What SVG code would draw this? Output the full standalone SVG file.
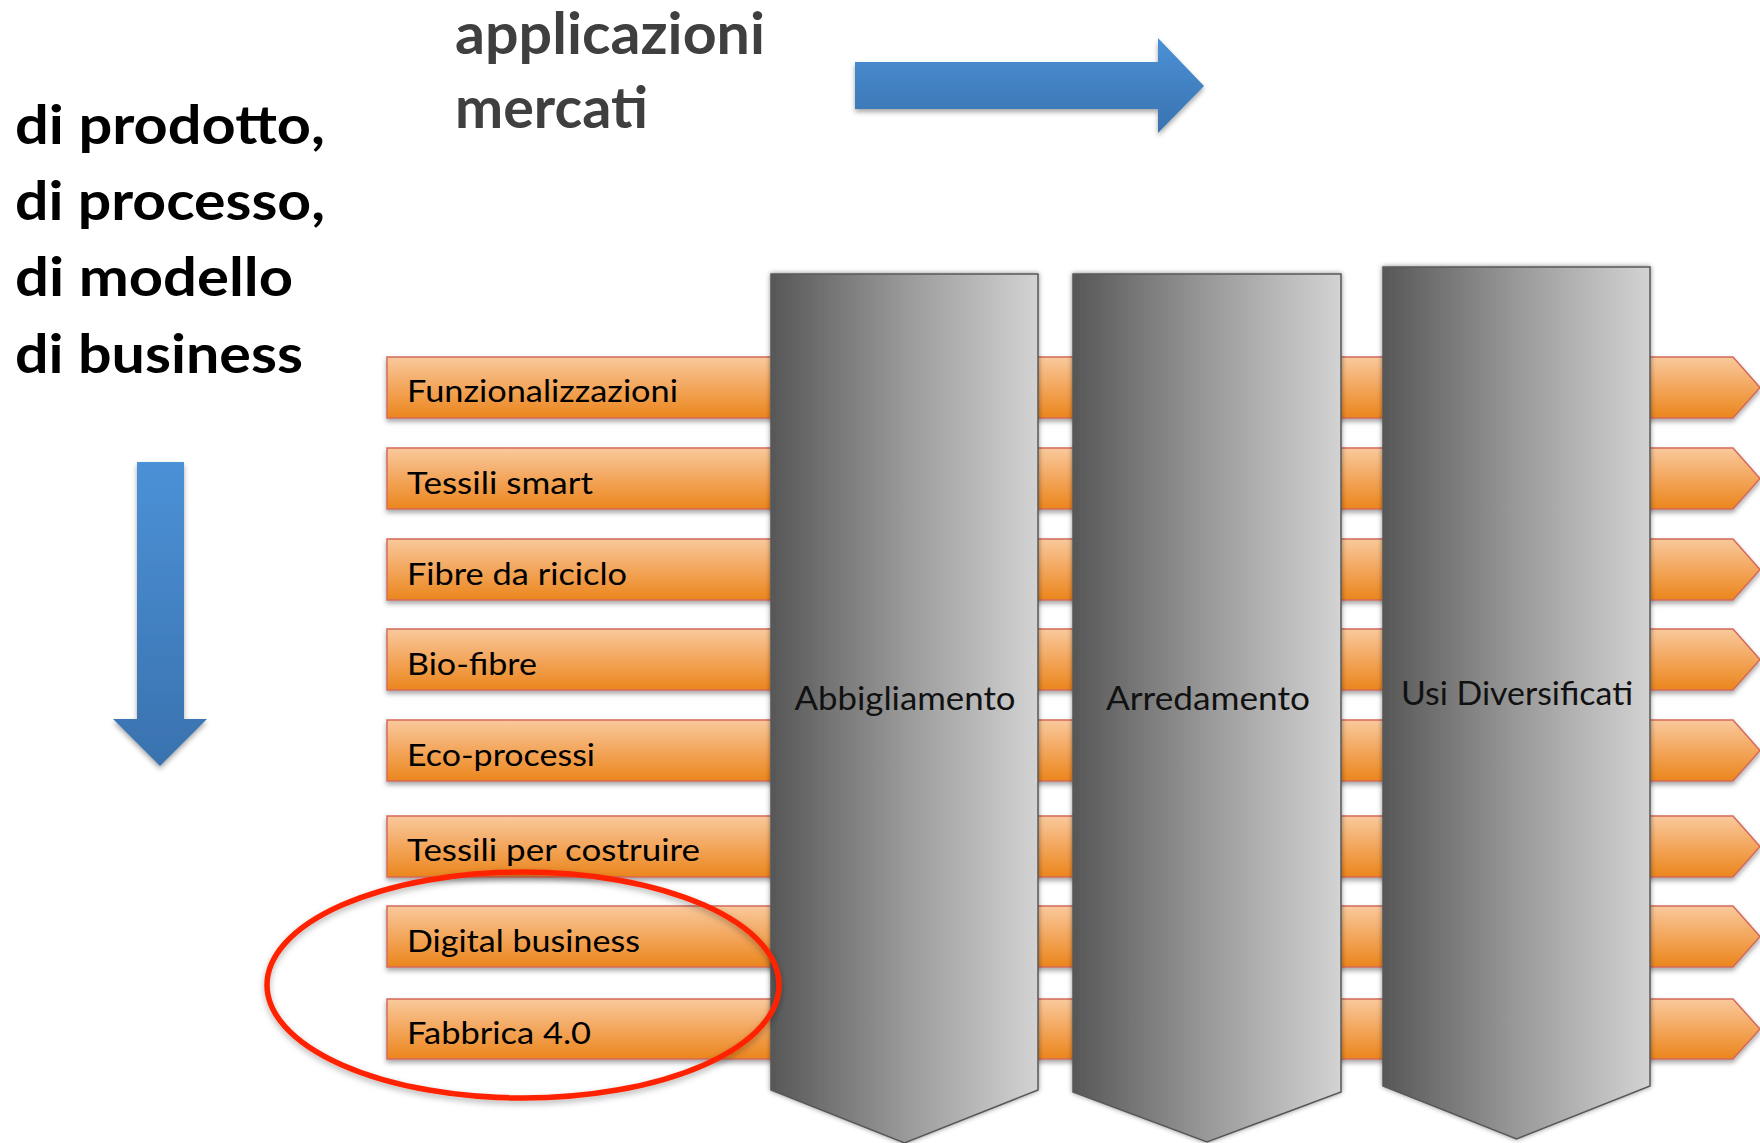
<svg xmlns="http://www.w3.org/2000/svg" width="1760" height="1143" viewBox="0 0 1760 1143">
<style>
  .head { font-family: Lato, "Open Sans", "Liberation Sans", sans-serif; font-weight: bold; }
  .left { font-size: 54px; fill: #000000; }
  .top { font-size: 58px; fill: #3f3f3f; }
  .bar { fill: url(#gOrange); stroke: #d3695c; stroke-width: 1.5; filter: url(#shadow); }
  .barText { font-family: Lato, "Open Sans", "Liberation Sans", sans-serif; font-size: 31px; fill: #000000; }
  .pillar { fill: url(#gGray); stroke: #585858; stroke-width: 1.5; filter: url(#shadow2); }
  .pillarText { font-family: Lato, "Open Sans", "Liberation Sans", sans-serif; font-size: 32px; fill: #111111; text-anchor: middle; }
  .blue { fill: url(#gBlue); filter: url(#shadow); }
</style>
<defs>
  <linearGradient id="gOrange" x1="0" y1="0" x2="0" y2="1">
    <stop offset="0" stop-color="#f9c99c"/>
    <stop offset="0.5" stop-color="#f3a65c"/>
    <stop offset="1" stop-color="#eb861c"/>
  </linearGradient>
  <linearGradient id="gGray" x1="0" y1="0" x2="1" y2="0">
    <stop offset="0" stop-color="#575757"/>
    <stop offset="0.5" stop-color="#999999"/>
    <stop offset="1" stop-color="#d3d3d3"/>
  </linearGradient>
  <linearGradient id="gBlue" x1="0" y1="0" x2="0" y2="1">
    <stop offset="0" stop-color="#4b91d7"/>
    <stop offset="1" stop-color="#3a72ae"/>
  </linearGradient>
  <filter id="shadow" x="-5%" y="-20%" width="110%" height="150%">
    <feDropShadow dx="0" dy="3" stdDeviation="2.5" flood-color="#000000" flood-opacity="0.35"/>
  </filter>
  <filter id="shadow2" x="-10%" y="-5%" width="120%" height="110%">
    <feDropShadow dx="0" dy="0" stdDeviation="2.5" flood-color="#000000" flood-opacity="0.45"/>
  </filter>
  <filter id="shadow3" x="-10%" y="-10%" width="120%" height="130%">
    <feDropShadow dx="0" dy="3" stdDeviation="3" flood-color="#000000" flood-opacity="0.3"/>
  </filter>
</defs>

<g id="title-left">
  <text class="head left" x="15" y="144" textLength="310" lengthAdjust="spacingAndGlyphs">di prodotto,</text>
  <text class="head left" x="15" y="220" textLength="310" lengthAdjust="spacingAndGlyphs">di processo,</text>
  <text class="head left" x="15" y="296" textLength="278" lengthAdjust="spacingAndGlyphs">di modello</text>
  <text class="head left" x="15" y="373" textLength="288" lengthAdjust="spacingAndGlyphs">di business</text>
</g>
<g id="title-top">
  <text class="head top" x="455" y="54" textLength="310" lengthAdjust="spacingAndGlyphs">applicazioni</text>
  <text class="head top" x="455" y="128" textLength="193" lengthAdjust="spacingAndGlyphs">mercati</text>
</g>

<g id="connectors">
  <path class="blue" d="M855,62 H1158 V38 L1204,86 L1158,133 V109 H855 Z"/>
  <path class="blue" d="M137,462 H184 V719 H207 L160,766 L113,719 H137 Z"/>
</g>

<g id="bar-funzionalizzazioni">
  <path class="bar" d="M387,357 H1733 L1760,387.5 L1733,418 H387 Z"/>
  <text class="barText" x="407" y="402" textLength="271" lengthAdjust="spacingAndGlyphs">Funzionalizzazioni</text>
</g>
<g id="bar-tessili-smart">
  <path class="bar" d="M387,448 H1733 L1760,478.5 L1733,509 H387 Z"/>
  <text class="barText" x="407" y="494" textLength="186" lengthAdjust="spacingAndGlyphs">Tessili smart</text>
</g>
<g id="bar-fibre-riciclo">
  <path class="bar" d="M387,539 H1733 L1760,569.5 L1733,600 H387 Z"/>
  <text class="barText" x="407" y="585" textLength="220" lengthAdjust="spacingAndGlyphs">Fibre da riciclo</text>
</g>
<g id="bar-bio-fibre">
  <path class="bar" d="M387,629 H1733 L1760,659.5 L1733,690 H387 Z"/>
  <text class="barText" x="407" y="675" textLength="130" lengthAdjust="spacingAndGlyphs">Bio-fibre</text>
</g>
<g id="bar-eco-processi">
  <path class="bar" d="M387,720 H1733 L1760,750.5 L1733,781 H387 Z"/>
  <text class="barText" x="407" y="766" textLength="188" lengthAdjust="spacingAndGlyphs">Eco-processi</text>
</g>
<g id="bar-tessili-costruire">
  <path class="bar" d="M387,816 H1733 L1760,846.5 L1733,877 H387 Z"/>
  <text class="barText" x="407" y="861" textLength="293" lengthAdjust="spacingAndGlyphs">Tessili per costruire</text>
</g>
<g id="bar-digital-business">
  <path class="bar" d="M387,906 H1733 L1760,936.5 L1733,967 H387 Z"/>
  <text class="barText" x="407" y="952" textLength="233" lengthAdjust="spacingAndGlyphs">Digital business</text>
</g>
<g id="bar-fabbrica">
  <path class="bar" d="M387,999 H1733 L1760,1029 L1733,1059 H387 Z"/>
  <text class="barText" x="407" y="1044" textLength="184" lengthAdjust="spacingAndGlyphs">Fabbrica 4.0</text>
</g>

<g id="pillar-abbigliamento">
  <path class="pillar" d="M771,274 H1038 V1090 L904.5,1143 L771,1090 Z"/>
  <text class="pillarText" x="905" y="710" textLength="221" lengthAdjust="spacingAndGlyphs">Abbigliamento</text>
</g>
<g id="pillar-arredamento">
  <path class="pillar" d="M1073,274 H1341 V1092 L1207,1142 L1073,1092 Z"/>
  <text class="pillarText" x="1208" y="710" textLength="204" lengthAdjust="spacingAndGlyphs">Arredamento</text>
</g>
<g id="pillar-usi-diversificati">
  <path class="pillar" d="M1383,267 H1650 V1086 L1516.5,1139 L1383,1086 Z"/>
  <text class="pillarText" x="1517" y="705" textLength="232" lengthAdjust="spacingAndGlyphs">Usi Diversificati</text>
</g>

<g id="highlight">
  <ellipse cx="523" cy="985" rx="256" ry="113" fill="none" stroke="#ff2400" stroke-width="5.5" filter="url(#shadow3)"/>
</g>
</svg>
